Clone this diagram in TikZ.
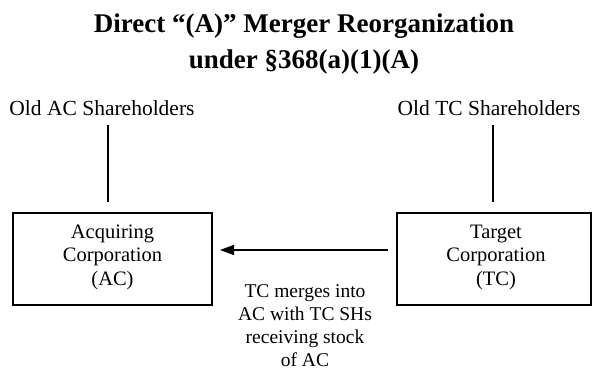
\documentclass[tikz,border=0pt]{standalone}
\usepackage{fontspec}
\setmainfont{Liberation Serif}
\usetikzlibrary{arrows.meta}
\begin{document}
\begin{tikzpicture}[x=1pt,y=-1pt,
  every node/.style={inner sep=0pt, outer sep=0pt},
  corpbox/.style={draw, line width=1.2pt, align=center},
  lbl/.style={font=\fontsize{21.5}{24}\selectfont},
  boxtxt/.style={font=\fontsize{20.5}{23.5}\selectfont, align=center},
  conn/.style={line width=1.2pt}]
\useasboundingbox (0,0) rectangle (592,375);
\node[font=\bfseries\fontsize{27}{36}\selectfont, align=center] (title) at (304,44) {Direct “(A)” Merger Reorganization\\under §368(a)(1)(A)};
\node[lbl] (oldac) at (102,108) {Old AC Shareholders};
\node[lbl] (oldtc) at (489,108) {Old TC Shareholders};
\draw[corpbox] (13,213) rectangle (212,305);
\node[boxtxt] (ac) at (112.5,257) {Acquiring\\Corporation\\(AC)};
\draw[corpbox] (397,213) rectangle (591,305);
\node[boxtxt] (tc) at (496,257) {Target\\Corporation\\(TC)};
\coordinate (l1) at (108,125);
\coordinate (l1b) at (108,202);
\coordinate (l2) at (493,125);
\coordinate (l2b) at (493,202);
\draw[conn] (l1) -- (l1b);
\draw[conn] (l2) -- (l2b);
\coordinate (arrS) at (388,250);
\coordinate (arrE) at (220,250);
\draw[conn, -{Triangle[length=14pt,width=10pt]}] (arrS) -- (arrE);
\node[font=\fontsize{19.5}{23}\selectfont, align=center] (lab) at (305,326) {TC merges into\\AC with TC SHs\\receiving stock\\of AC};
\end{tikzpicture}
\end{document}
